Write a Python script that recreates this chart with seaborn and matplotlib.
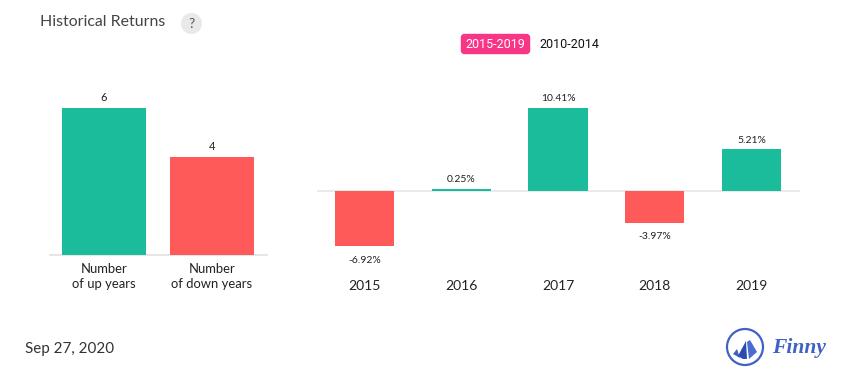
import matplotlib
matplotlib.use('Agg')
import matplotlib.pyplot as plt
import pandas as pd
import seaborn as sns
from matplotlib.patches import Circle, FancyBboxPatch, Polygon

W, H = 855, 382

count_labels = ['Number\nof up years', 'Number\nof down years']
count_values = [6, 4]
count_text = ['6', '4']
years = ['2015', '2016', '2017', '2018', '2019']
returns = [-6.92, 0.25, 10.41, -3.97, 5.21]
return_text = ['-6.92%', '0.25%', '10.41%', '-3.97%', '5.21%']

GREEN = '#1abc9c'
RED = '#ff5a5a'
INK = '#222222'

sns.set_theme(style='white')
plt.rcParams['font.family'] = ['Lato', 'Open Sans', 'DejaVu Sans']


def px_axes(fig, x0, x1, y_top, y_bottom):
    return fig.add_axes([x0 / W, 1 - y_bottom / H, (x1 - x0) / W, (y_bottom - y_top) / H])


def style_axes(ax):
    sns.despine(ax=ax, left=True, bottom=True)
    ax.set_xlabel('')
    ax.set_ylabel('')
    ax.set_yticks([])
    ax.tick_params(axis='x', length=0)


fig = plt.figure(figsize=(W / 100, H / 100), dpi=100)
fig.patch.set_facecolor('white')

# left panel, 24.5 px per up/down year
ax1 = px_axes(fig, 50, 267, 85, 255)
df1 = pd.DataFrame({'label': count_labels, 'value': count_values})
sns.barplot(data=df1, x='label', y='value', hue='label', palette=[GREEN, RED],
            width=0.778, legend=False, saturation=1, linewidth=0, ax=ax1)
ax1.set_xlim(-0.5, 1.509)
ax1.set_ylim(0, 170 / 24.5)
style_axes(ax1)
ax1.axhline(0, color='#e6e6e6', lw=1.5, clip_on=False, zorder=0)
ax1.tick_params(axis='x', labelsize=9.4, labelcolor=INK, pad=5.5)
for lab in ax1.get_xticklabels():
    lab.set_linespacing(1.32)
for i, v in enumerate(count_values):
    ax1.annotate(count_text[i], (i, v), xytext=(0, 3.3), textcoords='offset points',
                 ha='center', va='bottom', fontsize=8, color=INK)

# right panel, 7.97 px per percent
ax2 = px_axes(fig, 317, 800, 85, 270)
df2 = pd.DataFrame({'year': years, 'value': returns})
colors = {y: (GREEN if v >= 0 else RED) for y, v in zip(years, returns)}
sns.barplot(data=df2, x='year', y='value', hue='year', palette=colors,
            width=0.61, legend=False, saturation=1, linewidth=0, ax=ax2)
ax2.set_xlim(-0.49, 4.50)
ax2.set_ylim(-79 / 7.97, 106 / 7.97)
style_axes(ax2)
ax2.axhline(0, color='#e6e6e6', lw=1.2, zorder=0)
ax2.tick_params(axis='x', labelsize=10, labelcolor=INK, pad=7)
for i, v in enumerate(returns):
    up = v >= 0
    ax2.annotate(return_text[i], (i, v), xytext=(0, 3.5 if up else -6.8), textcoords='offset points',
                 ha='center', va='bottom' if up else 'top', fontsize=7.5, color=INK)

# page overlay in pixel coordinates
over = fig.add_axes([0, 0, 1, 1], facecolor='none')
over.set_xlim(0, W)
over.set_ylim(H, 0)
over.axis('off')

over.text(40, 22.5, 'Historical Returns', fontsize=11.4, color='#444444', va='center')
over.add_patch(Circle((191.5, 23.5), 10.5, fc='#e9e9e9', ec='none'))
over.text(191.5, 23.5, '?', fontsize=10, color='#555555', ha='center', va='center')

over.add_patch(FancyBboxPatch((461.5, 34.5), 68, 19, boxstyle='round,pad=0,rounding_size=3',
                              fc='#f93585', ec='#f93585', lw=1))
over.text(495.5, 44.5, '2015-2019', fontsize=9, color='white', ha='center', va='center',
          family=['Roboto', 'DejaVu Sans'])
over.text(569.5, 44.5, '2010-2014', fontsize=9, color='#111111', ha='center', va='center',
          family=['Roboto', 'DejaVu Sans'])

over.text(25, 348.5, 'Sep 27, 2020', fontsize=10.9, color='#333333', va='center')

# logo
over.add_patch(Circle((745, 347), 18, fc='white', ec='#3f62c4', lw=1.6))
over.add_patch(Polygon([[733, 354], [737, 349], [740, 358]], fc='#3f62c4', ec='none'))
over.add_patch(Polygon([[738, 356], [746, 341], [747, 359], [743, 359]], fc='#2a4bb0', ec='none'))
over.add_patch(Polygon([[747, 342], [750, 340], [757, 352], [749, 359]], fc='#4a6cd0', ec='none'))
over.text(772, 348, 'Finny', fontsize=15.5, color='#3f62c4', va='center', style='italic',
          weight='bold', family=['Liberation Serif', 'DejaVu Serif'])

fig.savefig('out.png', dpi=100)
